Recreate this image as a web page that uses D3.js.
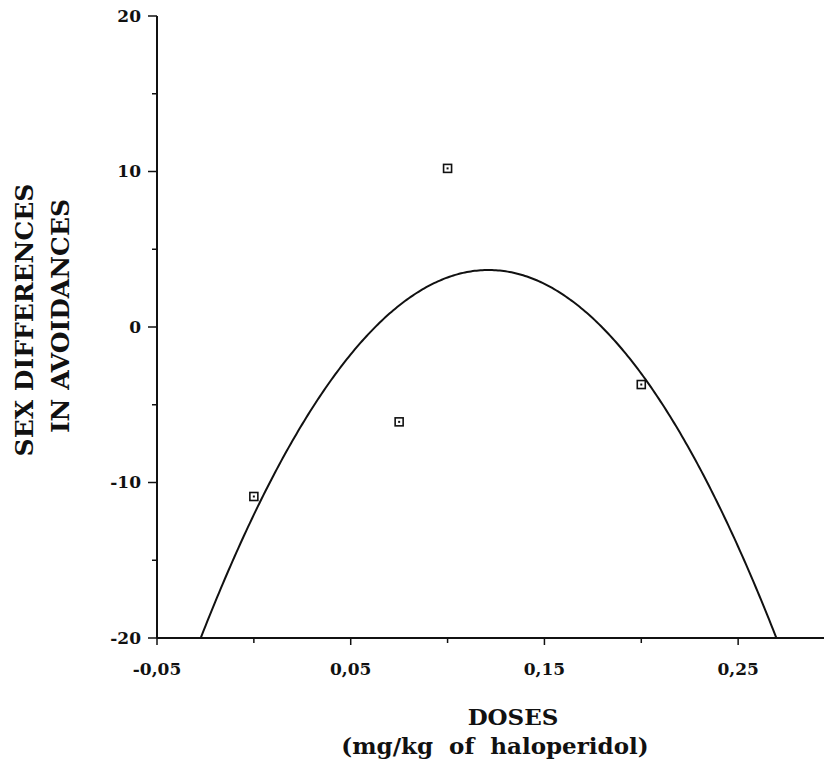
<!DOCTYPE html>
<html>
<head>
<meta charset="utf-8">
<script src="https://cdn.jsdelivr.net/npm/d3@7"></script>
<style>
  body { margin: 0; background: #fff; }
  svg text { font-family: "DejaVu Serif", serif; font-weight: bold; fill: #111; }
</style>
</head>
<body>
<div id="chart"></div>
<script>
// doses (mg/kg haloperidol) and sex differences in avoidances
let doses = [0, 0.075, 0.1, 0.2];
let differences = [-10.9, -6.1, 10.2, -3.7];

let xMajor = [-0.05, 0.05, 0.15, 0.25];
let xMinor = [0, 0.1, 0.2];
let yMajor = [-20, -10, 0, 10, 20];
let yMinor = [-15, -5, 5, 15];

let width = 824, height = 763;

let svg = d3.select('#chart').append('svg')
    .attr('width', width)
    .attr('height', height);

let x = d3.scaleLinear().domain([-0.05, 0.3]).range([157, 835]);
let y = d3.scaleLinear().domain([-20, 20]).range([638, 16]);

let fmt = d3.formatLocale({decimal: ",", thousands: ".", grouping: [3], currency: ["", ""], minus: "-"}).format(".2f");

// least squares quadratic fit through the points
function quadFit(xs, ys) {
    let s = [0, 0, 0, 0, 0], t = [0, 0, 0];
    xs.forEach(function (xv, i) {
        for (let k = 0; k < 5; k++) s[k] += Math.pow(xv, k);
        for (let k = 0; k < 3; k++) t[k] += ys[i] * Math.pow(xv, k);
    });
    let m = [[s[0], s[1], s[2], t[0]], [s[1], s[2], s[3], t[1]], [s[2], s[3], s[4], t[2]]];
    for (let i = 0; i < 3; i++) {
        for (let j = i + 1; j < 3; j++) {
            let f = m[j][i] / m[i][i];
            for (let k = i; k < 4; k++) m[j][k] -= f * m[i][k];
        }
    }
    let c = [0, 0, 0];
    for (let i = 2; i >= 0; i--) {
        let v = m[i][3];
        for (let k = i + 1; k < 3; k++) v -= m[i][k] * c[k];
        c[i] = v / m[i][i];
    }
    return c;
}
let coef = quadFit(doses, differences);

svg.append('clipPath').attr('id', 'plot')
    .append('rect')
    .attr('x', x(-0.05)).attr('y', y(20))
    .attr('width', width).attr('height', y(-20) - y(20));

let curveData = d3.range(-0.05, 0.3, 0.001).map(function (d) {
    return [d, coef[0] + coef[1] * d + coef[2] * d * d];
});

let line = d3.line()
    .x(function (d) { return x(d[0]); })
    .y(function (d) { return y(d[1]); });

svg.append('path')
    .datum(curveData)
    .attr('clip-path', 'url(#plot)')
    .attr('d', line)
    .attr('fill', 'none')
    .attr('stroke', '#111')
    .attr('stroke-width', 2);

// axes
let xAxis = svg.append('g').attr('transform', 'translate(0,' + y(-20) + ')');
xAxis.append('line').attr('x1', x(-0.05)).attr('x2', width).attr('stroke', '#111').attr('stroke-width', 2);
xAxis.selectAll('.maj').data(xMajor).enter().append('line')
    .attr('x1', x).attr('x2', x).attr('y1', 0).attr('y2', 7)
    .attr('stroke', '#111').attr('stroke-width', 1.5);
xAxis.selectAll('.min').data(xMinor).enter().append('line')
    .attr('x1', x).attr('x2', x).attr('y1', 0).attr('y2', 5)
    .attr('stroke', '#111').attr('stroke-width', 1.5);
xAxis.selectAll('text').data(xMajor).enter().append('text')
    .attr('x', x).attr('y', 37)
    .attr('text-anchor', 'middle')
    .style('font-size', '17px')
    .text(fmt);

let yAxis = svg.append('g').attr('transform', 'translate(' + x(-0.05) + ',0)');
yAxis.append('line').attr('y1', y(20)).attr('y2', y(-20)).attr('stroke', '#111').attr('stroke-width', 2);
yAxis.selectAll('.maj').data(yMajor).enter().append('line')
    .attr('y1', y).attr('y2', y).attr('x1', -9).attr('x2', 0)
    .attr('stroke', '#111').attr('stroke-width', 1.5);
yAxis.selectAll('.min').data(yMinor).enter().append('line')
    .attr('y1', y).attr('y2', y).attr('x1', -5).attr('x2', 0)
    .attr('stroke', '#111').attr('stroke-width', 1.5);
yAxis.selectAll('text').data(yMajor).enter().append('text')
    .attr('x', -16).attr('y', y)
    .attr('dy', '0.35em')
    .attr('text-anchor', 'end')
    .style('font-size', '17px')
    .text(function (d) { return d; });

// markers
let pts = svg.selectAll('.pt').data(doses).enter().append('g')
    .attr('transform', function (d, i) { return 'translate(' + x(d) + ',' + y(differences[i]) + ')'; });
pts.append('rect').attr('x', -4).attr('y', -4).attr('width', 8).attr('height', 8)
    .attr('fill', 'none').attr('stroke', '#111').attr('stroke-width', 1.6);
pts.append('rect').attr('x', -1).attr('y', -1).attr('width', 2).attr('height', 2).attr('fill', '#111');

// titles
svg.append('text').attr('x', 513).attr('y', 725).attr('text-anchor', 'middle')
    .style('font-size', '23px').text('DOSES');
svg.append('text').attr('x', 495).attr('y', 754).attr('text-anchor', 'middle')
    .attr('xml:space', 'preserve').style('white-space', 'pre')
    .style('font-size', '23px').text('(mg/kg  of  haloperidol)');

svg.append('text').attr('transform', 'translate(33,320) rotate(-90)')
    .attr('text-anchor', 'middle').style('font-size', '25px').text('SEX DIFFERENCES');
svg.append('text').attr('transform', 'translate(69,316) rotate(-90)')
    .attr('text-anchor', 'middle').style('font-size', '25px').text('IN AVOIDANCES');
</script>
</body>
</html>
